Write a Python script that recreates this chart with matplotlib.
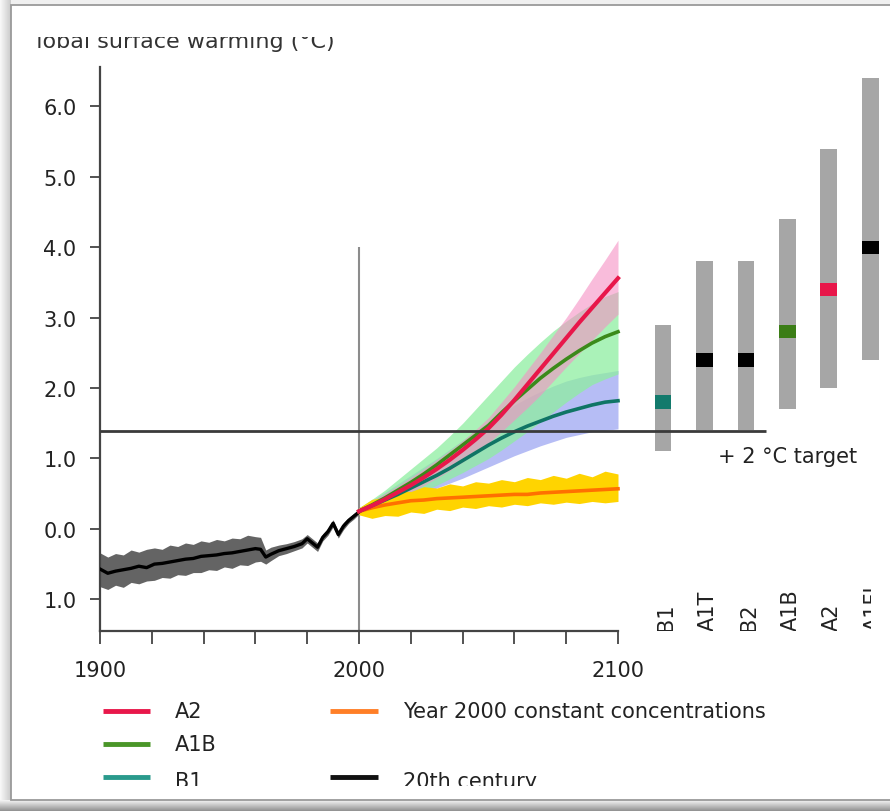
import numpy as np
import matplotlib
matplotlib.use('Agg')
import matplotlib.pyplot as plt
from matplotlib.patches import Rectangle

plt.rcParams['font.family'] = ['DejaVu Sans']

# ---------------- data ----------------
hist_years = [1900, 1903, 1906, 1909, 1912, 1915, 1918, 1921, 1924, 1927, 1930, 1933,
              1936, 1939, 1942, 1945, 1948, 1951, 1954, 1957, 1960, 1962, 1964, 1966,
              1969, 1972, 1975, 1978, 1980, 1982, 1984, 1986, 1988, 1990, 1992, 1994,
              1996, 1998, 2000]
hist_mean = [-0.57, -0.63, -0.60, -0.58, -0.56, -0.53, -0.55, -0.50, -0.49, -0.47, -0.45, -0.43,
             -0.42, -0.39, -0.38, -0.37, -0.35, -0.34, -0.32, -0.30, -0.28, -0.29, -0.40, -0.36,
             -0.31, -0.28, -0.25, -0.21, -0.14, -0.20, -0.26, -0.12, -0.04, 0.08, -0.08, 0.04,
             0.12, 0.18, 0.24]
hist_upper = [-0.34, -0.40, -0.35, -0.37, -0.30, -0.33, -0.29, -0.27, -0.29, -0.23, -0.25, -0.20,
              -0.22, -0.17, -0.19, -0.15, -0.17, -0.13, -0.14, -0.09, -0.11, -0.12, -0.30, -0.26,
              -0.23, -0.21, -0.18, -0.14, -0.08, -0.14, -0.20, -0.07, 0.01, 0.13, -0.03, 0.09,
              0.16, 0.22, 0.27]
hist_lower = [-0.82, -0.86, -0.80, -0.83, -0.76, -0.78, -0.74, -0.73, -0.69, -0.70, -0.65, -0.66,
              -0.62, -0.62, -0.58, -0.59, -0.54, -0.56, -0.51, -0.52, -0.47, -0.46, -0.50, -0.45,
              -0.38, -0.35, -0.31, -0.27, -0.20, -0.26, -0.32, -0.17, -0.09, 0.03, -0.13, -0.01,
              0.08, 0.14, 0.21]

proj_years = [2000, 2005, 2010, 2015, 2020, 2025, 2030, 2035, 2040, 2045, 2050,
              2055, 2060, 2065, 2070, 2075, 2080, 2085, 2090, 2095, 2100]

a2_mean = [0.25, 0.33, 0.42, 0.52, 0.62, 0.73, 0.85, 0.98, 1.12, 1.27, 1.43,
           1.62, 1.83, 2.05, 2.27, 2.49, 2.71, 2.93, 3.14, 3.35, 3.56]
a2_upper = [0.30, 0.40, 0.50, 0.61, 0.73, 0.85, 0.98, 1.11, 1.25, 1.41, 1.58,
            1.80, 2.02, 2.26, 2.50, 2.75, 3.00, 3.27, 3.55, 3.82, 4.10]
a2_lower = [0.20, 0.28, 0.36, 0.44, 0.52, 0.62, 0.72, 0.83, 0.95, 1.08, 1.22,
            1.38, 1.55, 1.72, 1.90, 2.10, 2.30, 2.49, 2.68, 2.87, 3.05]

a1b_mean = [0.25, 0.34, 0.44, 0.55, 0.66, 0.78, 0.91, 1.05, 1.19, 1.33, 1.47,
            1.65, 1.82, 1.98, 2.14, 2.28, 2.41, 2.53, 2.64, 2.73, 2.80]
a1b_upper = [0.30, 0.42, 0.55, 0.70, 0.85, 1.00, 1.15, 1.32, 1.50, 1.70, 1.90,
             2.10, 2.30, 2.48, 2.65, 2.81, 2.95, 3.08, 3.20, 3.30, 3.37]
a1b_lower = [0.20, 0.27, 0.33, 0.40, 0.47, 0.54, 0.62, 0.71, 0.80, 0.90, 1.00,
             1.12, 1.25, 1.38, 1.52, 1.66, 1.80, 1.93, 2.05, 2.13, 2.20]

b1_mean = [0.25, 0.33, 0.41, 0.49, 0.58, 0.67, 0.76, 0.86, 0.97, 1.08, 1.19,
           1.29, 1.38, 1.46, 1.53, 1.60, 1.66, 1.71, 1.76, 1.80, 1.82]
b1_upper = [0.30, 0.40, 0.52, 0.64, 0.76, 0.88, 1.00, 1.13, 1.26, 1.39, 1.52,
            1.64, 1.76, 1.86, 1.95, 2.03, 2.10, 2.15, 2.19, 2.22, 2.25]
b1_lower = [0.20, 0.26, 0.32, 0.38, 0.44, 0.51, 0.58, 0.65, 0.72, 0.80, 0.88,
            0.96, 1.04, 1.11, 1.18, 1.24, 1.30, 1.34, 1.38, 1.40, 1.42]

const_mean = [0.25, 0.30, 0.34, 0.37, 0.40, 0.41, 0.43, 0.44, 0.45, 0.46, 0.47,
              0.48, 0.49, 0.49, 0.51, 0.52, 0.53, 0.54, 0.55, 0.56, 0.57]
const_upper = [0.30, 0.42, 0.45, 0.54, 0.53, 0.60, 0.58, 0.64, 0.61, 0.67, 0.65,
               0.70, 0.67, 0.73, 0.70, 0.76, 0.72, 0.79, 0.74, 0.82, 0.78]
const_lower = [0.20, 0.15, 0.19, 0.18, 0.24, 0.22, 0.28, 0.26, 0.31, 0.29, 0.33,
               0.31, 0.35, 0.33, 0.37, 0.35, 0.38, 0.36, 0.39, 0.37, 0.39]

bar_labels = ['B1', 'A1T', 'B2', 'A1B', 'A2', 'A1FI']
bar_low = [1.1, 1.4, 1.4, 1.7, 2.0, 2.4]
bar_high = [2.9, 3.8, 3.8, 4.4, 5.4, 6.4]
bar_best = [1.8, 2.4, 2.4, 2.8, 3.4, 4.0]
bar_best_colors = ['#137a6c', '#000000', '#000000', '#3b7d16', '#e8174a', '#000000']

target_value = 1.39
ytick_values = [-1, 0, 1, 2, 3, 4, 5, 6]
ytick_labels = ['1.0', '0.0', '1.0', '2.0', '3.0', '4.0', '5.0', '6.0']
xtick_values = list(range(1900, 2101, 20))
xtick_labels = ['1900', '', '', '', '', '2000', '', '', '', '', '2100']

legend_left = [('A2', '#e8174a'), ('A1B', '#4a9628'), ('B1', '#2a9a8c')]
legend_right = [('Year 2000 constant concentrations', '#ff7f27'), (None, None),
                ('20th century', '#111111')]

# ---------------- figure ----------------
W, H = 890, 812
fig = plt.figure(figsize=(W / 100, H / 100), dpi=100)


def fx(px):
    return px / W


def fy(py):
    return 1 - py / H


# background / frame
bg = fig.add_axes([0, 0, 1, 1], zorder=0)
bg.set_xlim(0, W)
bg.set_ylim(0, H)
bg.axis('off')
bg.add_patch(Rectangle((0, 0), W, H, facecolor='#f0f0f0', edgecolor='none'))
grad_l = np.linspace(0.97, 0.80, 12).reshape(1, -1)
bg.imshow(np.dstack([grad_l] * 3), extent=(0, 11, 0, H), aspect='auto', zorder=1)
grad_b = np.linspace(0.58, 0.95, 12).reshape(-1, 1)
bg.imshow(np.dstack([grad_b] * 3), extent=(0, W, 0, 11), aspect='auto', zorder=1,
          origin='lower')
bg.add_patch(Rectangle((11, 11), W, H - 6 - 11, facecolor='white',
                       edgecolor='#9a9a9a', lw=1.3, zorder=2))

# main axes
L, R, T, B = 100, 871, 68, 632
ax = fig.add_axes([fx(L), fy(B), fx(R) - fx(L), (B - T) / H], zorder=2)
ax.set_facecolor('none')
x_per_px = 200 / 518.0
ax.set_xlim(1900, 1900 + (R - L) * x_per_px)
ax.set_ylim(-1.45, 6.56)

for s in ['top', 'right']:
    ax.spines[s].set_visible(False)
for s in ['left', 'bottom']:
    ax.spines[s].set_color('#444444')
    ax.spines[s].set_linewidth(1.6)
ax.spines['bottom'].set_bounds(1900, 2100)

ax.set_xticks(xtick_values)
ax.set_xticklabels(xtick_labels)
ax.set_yticks(ytick_values)
ax.set_yticklabels(ytick_labels)
ax.tick_params(axis='x', length=9, width=1.3, pad=12, colors='#444444',
               labelcolor='#222222', labelsize=15)
ax.tick_params(axis='y', length=7, width=1.3, pad=10, colors='#444444',
               labelcolor='#222222', labelsize=15)

# reference lines
ax.vlines(2000, -1.45, 4.0, color='#8c8c8c', lw=1.5, zorder=1)
ax.hlines(target_value, 1900, 2157, color='#3a3a3a', lw=2, zorder=8)
ax.text(2138.6, 1.04, '+ 2 °C target', ha='left', va='center', fontsize=15,
        color='#222222')

# historical
ax.fill_between(hist_years, hist_lower, hist_upper, color='#646464', lw=0, zorder=2)
ax.plot(hist_years, hist_mean, color='#000000', lw=2.4, zorder=3)

# projections (bands)
ax.fill_between(proj_years, b1_lower, b1_upper, color='#b6bdf5', lw=0, zorder=2)
ax.fill_between(proj_years, a1b_lower, a1b_upper, color='#8eeea0', alpha=0.75, lw=0, zorder=2.1)
ax.fill_between(proj_years, a2_lower, a2_upper, color='#f590c4', alpha=0.6, lw=0, zorder=2.2)
ax.fill_between(proj_years, const_lower, const_upper, color='#ffd400', lw=0, zorder=2.3)

# projection lines
ax.plot(proj_years, const_mean, color='#ff7000', lw=2.6, zorder=4)
ax.plot(proj_years, b1_mean, color='#0f7565', lw=2.6, zorder=4)
ax.plot(proj_years, a1b_mean, color='#3b8a1a', lw=2.6, zorder=4.1)
ax.plot(proj_years, a2_mean, color='#e8174a', lw=3.0, zorder=4.2)

# range bars
bar_x = [2117.4 + 16.0 * i for i in range(len(bar_labels))]
bar_w = 6.5
heights = [h - l for h, l in zip(bar_high, bar_low)]
ax.bar(bar_x, heights, bottom=bar_low, width=bar_w, color='#a6a6a6', zorder=5,
       clip_on=False)
ax.bar(bar_x, [0.19] * len(bar_x), bottom=[b - 0.095 for b in bar_best], width=bar_w,
       color=bar_best_colors, zorder=6, clip_on=False)
for x, lab in zip(bar_x, bar_labels):
    ax.text(x + 1.2, -1.43, lab, rotation=90, ha='center', va='bottom', fontsize=15,
            color='#222222', clip_on=True)

# title (clipped like the reference)
ta = fig.add_axes([fx(36), fy(80), 1 - fx(36), (80 - 38) / H], zorder=3)
ta.set_xlim(36, W)
ta.set_ylim(80, 38)
ta.axis('off')
ta.text(19, 48, 'Global surface warming (°C)', ha='left', va='baseline', fontsize=16,
        color='#333333', clip_on=True)

# legend (clipped at the bottom like the reference)
lg = fig.add_axes([fx(60), fy(787), fx(830) - fx(60), (787 - 690) / H], zorder=3)
lg.set_xlim(60, 830)
lg.set_ylim(787, 690)
lg.axis('off')
line_y = [712, 745, 778]
text_y = [712, 745, 782]
for (lab, col), yl, yt in zip(legend_left, line_y, text_y):
    lg.plot([103, 150], [yl, yl], color=col, lw=3.5, solid_capstyle='butt', clip_on=True)
    lg.text(175, yt, lab, ha='left', va='center', fontsize=15, color='#222222', clip_on=True)
for (lab, col), yl, yt in zip(legend_right, line_y, text_y):
    if lab is None:
        continue
    lg.plot([330, 378], [yl, yl], color=col, lw=3.5, solid_capstyle='butt', clip_on=True)
    lg.text(403, yt, lab, ha='left', va='center', fontsize=15, color='#222222', clip_on=True)

fig.savefig('out.png', dpi=100)
